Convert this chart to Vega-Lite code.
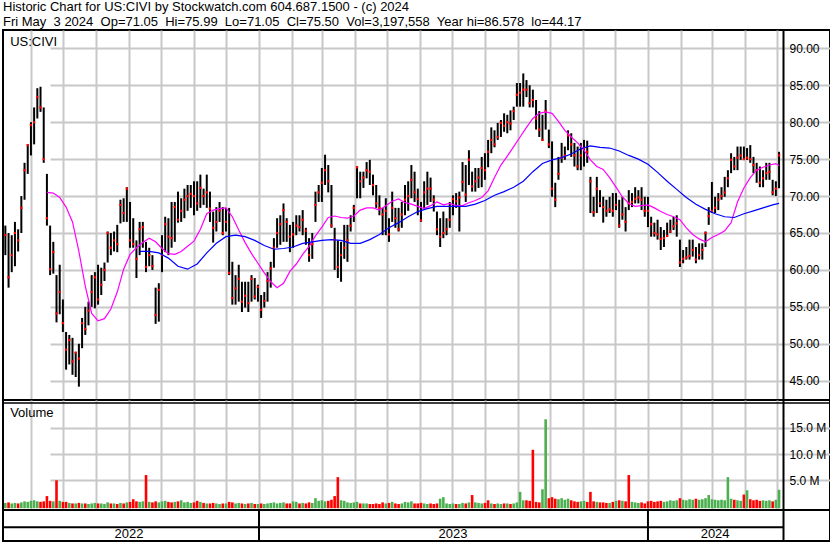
{
  "$schema": "https://vega.github.io/schema/vega-lite/v6.json",
  "padding": {"left": 1, "top": 0, "right": 0, "bottom": 0},
  "background": "white",
  "config": {
    "view": {"stroke": "black", "strokeWidth": 2},
    "font": "Liberation Sans",
    "axis": {"labelFont": "Liberation Sans", "labelColor": "black", "labelFontSize": 12}
  },
  "datasets": {
    "hdr": [
      {"line": "1", "t": "Historic Chart for US:CIVI by Stockwatch.com 604.687.1500 - (c) 2024"},
      {"line": "2", "t": "Fri May\u00a0 3 2024\u00a0 Op=71.05\u00a0 Hi=75.99\u00a0 Lo=71.05\u00a0 Cl=75.50\u00a0 Vol=3,197,558\u00a0 Year hi=86.578\u00a0 lo=44.17"}
    ],
    "px": [
      {"d":"2022-05-08","h":66,"l":62,"c":64.7,"v":0.7,"u":1},
      {"d":"2022-05-11","h":65,"l":57.6,"c":59,"v":0.8,"u":0},
      {"d":"2022-05-14","h":64.7,"l":59.7,"c":62,"v":0.6,"u":1},
      {"d":"2022-05-17","h":66.5,"l":60.5,"c":65,"v":0.7,"u":1},
      {"d":"2022-05-20","h":65.5,"l":62.5,"c":64,"v":0.6,"u":0},
      {"d":"2022-05-23","h":70,"l":65,"c":68.4,"v":0.8,"u":1},
      {"d":"2022-05-26","h":74.5,"l":69.5,"c":73.5,"v":1.0,"u":1},
      {"d":"2022-05-29","h":77,"l":73,"c":76.9,"v":0.9,"u":1},
      {"d":"2022-06-01","h":80,"l":75.5,"c":79.6,"v":1.1,"u":1},
      {"d":"2022-06-04","h":82,"l":77,"c":80,"v":1.2,"u":1},
      {"d":"2022-06-07","h":84.6,"l":80.5,"c":83.4,"v":1.0,"u":1},
      {"d":"2022-06-10","h":84.8,"l":81.4,"c":82,"v":0.9,"u":0},
      {"d":"2022-06-13","h":82,"l":74.5,"c":75,"v":1.0,"u":0},
      {"d":"2022-06-16","h":73,"l":66,"c":67,"v":2.0,"u":0},
      {"d":"2022-06-19","h":66,"l":59.3,"c":60.1,"v":1.1,"u":0},
      {"d":"2022-06-22","h":63.8,"l":59.5,"c":62.4,"v":1.0,"u":1},
      {"d":"2022-06-25","h":59.3,"l":52.9,"c":54.1,"v":5.0,"u":0},
      {"d":"2022-06-28","h":60.7,"l":54,"c":57,"v":1.1,"u":1},
      {"d":"2022-07-01","h":56,"l":51.6,"c":52.8,"v":0.9,"u":0},
      {"d":"2022-07-04","h":51.6,"l":46.5,"c":49.2,"v":0.9,"u":0},
      {"d":"2022-07-07","h":51.2,"l":47.2,"c":50.5,"v":0.7,"u":1},
      {"d":"2022-07-10","h":50.8,"l":45.8,"c":47.6,"v":0.6,"u":0},
      {"d":"2022-07-13","h":48.9,"l":45.5,"c":48.8,"v":0.6,"u":1},
      {"d":"2022-07-16","h":50,"l":44.2,"c":48,"v":0.7,"u":0},
      {"d":"2022-07-19","h":53.5,"l":49.4,"c":52.8,"v":0.6,"u":1},
      {"d":"2022-07-22","h":55,"l":51.2,"c":52,"v":0.6,"u":0},
      {"d":"2022-07-25","h":55.7,"l":52.5,"c":54.5,"v":0.5,"u":1},
      {"d":"2022-07-28","h":59.3,"l":55,"c":57,"v":0.6,"u":1},
      {"d":"2022-07-31","h":59.7,"l":54.8,"c":59,"v":0.7,"u":1},
      {"d":"2022-08-03","h":60.7,"l":55.3,"c":56,"v":0.6,"u":0},
      {"d":"2022-08-06","h":60.3,"l":56.6,"c":58,"v":0.6,"u":1},
      {"d":"2022-08-09","h":61,"l":58.5,"c":60,"v":0.5,"u":1},
      {"d":"2022-08-12","h":65.2,"l":61,"c":65,"v":0.8,"u":1},
      {"d":"2022-08-15","h":65,"l":62,"c":63,"v":0.6,"u":0},
      {"d":"2022-08-18","h":65.2,"l":62.5,"c":64,"v":0.6,"u":1},
      {"d":"2022-08-21","h":66.1,"l":62.4,"c":63.5,"v":0.5,"u":0},
      {"d":"2022-08-24","h":69.5,"l":66.3,"c":68.8,"v":0.7,"u":1},
      {"d":"2022-08-27","h":69.7,"l":66.5,"c":67.7,"v":0.6,"u":0},
      {"d":"2022-08-30","h":71.2,"l":66.5,"c":71,"v":0.8,"u":1},
      {"d":"2022-09-02","h":69.2,"l":63,"c":64,"v":0.9,"u":0},
      {"d":"2022-09-05","h":67,"l":63,"c":63.5,"v":1.4,"u":0},
      {"d":"2022-09-08","h":64,"l":58.9,"c":61.5,"v":1.0,"u":0},
      {"d":"2022-09-11","h":66.5,"l":62,"c":65.5,"v":0.9,"u":1},
      {"d":"2022-09-14","h":66.5,"l":63,"c":65.8,"v":1.0,"u":1},
      {"d":"2022-09-17","h":63.8,"l":59.7,"c":60.4,"v":6.0,"u":0},
      {"d":"2022-09-20","h":63,"l":60.5,"c":62,"v":0.9,"u":1},
      {"d":"2022-09-23","h":62,"l":60,"c":60.5,"v":0.8,"u":0},
      {"d":"2022-09-26","h":57.6,"l":52.7,"c":53.9,"v":1.0,"u":0},
      {"d":"2022-09-29","h":58.2,"l":53,"c":57.3,"v":0.8,"u":1},
      {"d":"2022-10-02","h":64.7,"l":59.7,"c":62,"v":1.0,"u":1},
      {"d":"2022-10-05","h":67.2,"l":62.4,"c":66.2,"v":1.1,"u":1},
      {"d":"2022-10-08","h":67,"l":62,"c":64.5,"v":0.9,"u":0},
      {"d":"2022-10-11","h":69.2,"l":63,"c":64.3,"v":0.8,"u":0},
      {"d":"2022-10-14","h":69.2,"l":63.8,"c":68.5,"v":0.9,"u":1},
      {"d":"2022-10-17","h":70.6,"l":66.4,"c":66.8,"v":1.0,"u":0},
      {"d":"2022-10-20","h":69.7,"l":66.5,"c":68,"v":1.2,"u":1},
      {"d":"2022-10-23","h":71,"l":67,"c":69.5,"v":0.8,"u":1},
      {"d":"2022-10-26","h":71.5,"l":68,"c":70,"v":0.9,"u":1},
      {"d":"2022-10-29","h":71.5,"l":68.4,"c":70.3,"v":0.7,"u":1},
      {"d":"2022-11-01","h":72,"l":67.4,"c":70,"v":0.8,"u":0},
      {"d":"2022-11-04","h":72,"l":68,"c":69,"v":1.1,"u":0},
      {"d":"2022-11-07","h":72.9,"l":68.4,"c":71.1,"v":0.9,"u":1},
      {"d":"2022-11-10","h":71,"l":68.8,"c":70,"v":0.7,"u":0},
      {"d":"2022-11-13","h":72.9,"l":68.4,"c":70.5,"v":0.6,"u":1},
      {"d":"2022-11-16","h":70.6,"l":66.5,"c":68.3,"v":0.6,"u":0},
      {"d":"2022-11-19","h":67.9,"l":63.7,"c":65.7,"v":0.7,"u":0},
      {"d":"2022-11-22","h":68.5,"l":65.2,"c":66.5,"v":0.6,"u":1},
      {"d":"2022-11-25","h":69.2,"l":66.5,"c":68,"v":0.5,"u":1},
      {"d":"2022-11-28","h":68.5,"l":64.7,"c":65,"v":0.6,"u":0},
      {"d":"2022-12-01","h":68.4,"l":65.2,"c":66.5,"v":0.6,"u":1},
      {"d":"2022-12-04","h":68.4,"l":59.3,"c":59.6,"v":0.9,"u":0},
      {"d":"2022-12-07","h":61.1,"l":55.3,"c":56.2,"v":0.8,"u":0},
      {"d":"2022-12-10","h":59.3,"l":55.3,"c":57.5,"v":0.6,"u":1},
      {"d":"2022-12-13","h":60.7,"l":55.7,"c":58.8,"v":0.7,"u":1},
      {"d":"2022-12-16","h":58.4,"l":54.3,"c":55.7,"v":0.6,"u":0},
      {"d":"2022-12-19","h":58.4,"l":54.9,"c":56.5,"v":0.5,"u":1},
      {"d":"2022-12-22","h":58.4,"l":54.3,"c":55.5,"v":0.6,"u":0},
      {"d":"2022-12-25","h":59.3,"l":55.7,"c":58.8,"v":0.7,"u":1},
      {"d":"2022-12-28","h":58.9,"l":56,"c":56.4,"v":0.5,"u":0},
      {"d":"2022-12-31","h":58,"l":55.7,"c":57.7,"v":0.5,"u":1},
      {"d":"2023-01-03","h":56.6,"l":53.5,"c":54.6,"v":0.6,"u":0},
      {"d":"2023-01-06","h":57,"l":54.9,"c":55.8,"v":0.5,"u":1},
      {"d":"2023-01-09","h":59.7,"l":55.7,"c":58.5,"v":0.6,"u":1},
      {"d":"2023-01-12","h":61.1,"l":57.6,"c":60.2,"v":0.7,"u":1},
      {"d":"2023-01-15","h":64.3,"l":60.3,"c":63,"v":0.8,"u":1},
      {"d":"2023-01-18","h":67,"l":63,"c":65,"v":0.6,"u":1},
      {"d":"2023-01-21","h":67.4,"l":63.4,"c":66.2,"v":0.7,"u":1},
      {"d":"2023-01-24","h":69,"l":63.8,"c":68.1,"v":0.8,"u":1},
      {"d":"2023-01-27","h":67,"l":63.8,"c":66.5,"v":0.6,"u":0},
      {"d":"2023-01-30","h":66.1,"l":62.4,"c":64.5,"v":0.6,"u":0},
      {"d":"2023-02-02","h":66.5,"l":63,"c":64.8,"v":1.0,"u":1},
      {"d":"2023-02-05","h":67.4,"l":64.7,"c":66,"v":0.9,"u":1},
      {"d":"2023-02-08","h":67.4,"l":65.2,"c":65.8,"v":0.6,"u":0},
      {"d":"2023-02-11","h":68.1,"l":64.7,"c":66.8,"v":0.7,"u":1},
      {"d":"2023-02-14","h":65.7,"l":63.4,"c":65.3,"v":0.6,"u":0},
      {"d":"2023-02-17","h":64.3,"l":61.1,"c":62,"v":0.8,"u":0},
      {"d":"2023-02-20","h":65,"l":61.5,"c":63.5,"v":0.7,"u":1},
      {"d":"2023-02-23","h":70.6,"l":66.5,"c":68.8,"v":1.6,"u":1},
      {"d":"2023-02-26","h":71.5,"l":69.2,"c":70.5,"v":1.1,"u":1},
      {"d":"2023-03-01","h":73.8,"l":69.2,"c":71.8,"v":1.2,"u":1},
      {"d":"2023-03-04","h":75.6,"l":71.5,"c":73.5,"v":1.0,"u":1},
      {"d":"2023-03-07","h":74.2,"l":70.5,"c":72,"v":1.1,"u":0},
      {"d":"2023-03-10","h":71.5,"l":65.7,"c":66,"v":1.3,"u":0},
      {"d":"2023-03-13","h":65.7,"l":60,"c":64.1,"v":2.0,"u":0},
      {"d":"2023-03-16","h":64,"l":58.9,"c":60.4,"v":5.6,"u":0},
      {"d":"2023-03-19","h":63.8,"l":58.4,"c":62,"v":1.2,"u":1},
      {"d":"2023-03-22","h":66.1,"l":61.5,"c":63,"v":1.1,"u":1},
      {"d":"2023-03-25","h":66.1,"l":61.1,"c":64,"v":0.8,"u":1},
      {"d":"2023-03-28","h":67.4,"l":65.2,"c":66,"v":0.7,"u":1},
      {"d":"2023-03-31","h":68.8,"l":66.5,"c":68.4,"v":0.8,"u":1},
      {"d":"2023-04-03","h":74,"l":69.7,"c":73.9,"v":0.9,"u":1},
      {"d":"2023-04-06","h":73.3,"l":69.7,"c":72,"v":0.6,"u":0},
      {"d":"2023-04-09","h":73.3,"l":71.1,"c":72.5,"v":0.6,"u":1},
      {"d":"2023-04-12","h":74.6,"l":72.4,"c":73.5,"v":0.6,"u":1},
      {"d":"2023-04-15","h":74.9,"l":71.5,"c":73.3,"v":0.5,"u":0},
      {"d":"2023-04-18","h":72.9,"l":70.1,"c":71.5,"v":0.5,"u":0},
      {"d":"2023-04-21","h":71.5,"l":68.4,"c":69,"v":0.6,"u":0},
      {"d":"2023-04-24","h":70.1,"l":67.4,"c":68.4,"v":0.5,"u":0},
      {"d":"2023-04-27","h":68.4,"l":64.7,"c":67.5,"v":0.8,"u":0},
      {"d":"2023-04-30","h":69.7,"l":64.7,"c":68,"v":0.6,"u":1},
      {"d":"2023-05-03","h":67,"l":63.8,"c":64.8,"v":0.7,"u":0},
      {"d":"2023-05-06","h":70.6,"l":66.5,"c":68.4,"v":0.9,"u":1},
      {"d":"2023-05-09","h":68.4,"l":65.7,"c":67,"v":0.6,"u":0},
      {"d":"2023-05-12","h":68.4,"l":65.2,"c":65.5,"v":0.5,"u":0},
      {"d":"2023-05-15","h":69.2,"l":65.7,"c":67.5,"v":0.6,"u":1},
      {"d":"2023-05-18","h":71.5,"l":67.4,"c":69.5,"v":0.9,"u":1},
      {"d":"2023-05-21","h":72,"l":68,"c":70,"v":0.8,"u":1},
      {"d":"2023-05-24","h":74.2,"l":69.7,"c":72.2,"v":1.0,"u":1},
      {"d":"2023-05-27","h":73.3,"l":69.2,"c":70.5,"v":0.6,"u":0},
      {"d":"2023-05-30","h":71,"l":67.4,"c":69.6,"v":0.6,"u":0},
      {"d":"2023-06-02","h":69.2,"l":66.5,"c":66.7,"v":0.7,"u":0},
      {"d":"2023-06-05","h":72,"l":68.4,"c":70.5,"v":0.6,"u":1},
      {"d":"2023-06-08","h":73.3,"l":68.8,"c":71,"v":0.5,"u":1},
      {"d":"2023-06-11","h":72.5,"l":69.2,"c":71,"v":0.6,"u":0},
      {"d":"2023-06-14","h":70.1,"l":67.9,"c":69.5,"v":0.5,"u":0},
      {"d":"2023-06-17","h":67.9,"l":64.7,"c":65.5,"v":0.6,"u":0},
      {"d":"2023-06-20","h":67,"l":63.1,"c":64.5,"v":1.5,"u":1},
      {"d":"2023-06-23","h":67.9,"l":64.3,"c":65,"v":1.8,"u":1},
      {"d":"2023-06-26","h":67,"l":64.7,"c":65.5,"v":0.6,"u":1},
      {"d":"2023-06-29","h":69.2,"l":65.7,"c":66.8,"v":0.5,"u":1},
      {"d":"2023-07-02","h":70.1,"l":67.4,"c":69.6,"v":0.6,"u":1},
      {"d":"2023-07-05","h":70.4,"l":68.4,"c":69.3,"v":0.5,"u":0},
      {"d":"2023-07-08","h":70.6,"l":65.2,"c":69.8,"v":0.5,"u":1},
      {"d":"2023-07-11","h":74.6,"l":70.6,"c":71.9,"v":0.7,"u":1},
      {"d":"2023-07-14","h":74.2,"l":69.2,"c":70.2,"v":0.6,"u":0},
      {"d":"2023-07-17","h":76.2,"l":71.5,"c":74.9,"v":0.8,"u":1},
      {"d":"2023-07-20","h":73.3,"l":70.6,"c":71.3,"v":2.2,"u":0},
      {"d":"2023-07-23","h":73.8,"l":70.6,"c":72,"v":0.8,"u":1},
      {"d":"2023-07-26","h":73.8,"l":71.1,"c":72.5,"v":0.7,"u":1},
      {"d":"2023-07-29","h":75.3,"l":71.2,"c":73.8,"v":0.6,"u":1},
      {"d":"2023-08-01","h":75.8,"l":72.2,"c":73.5,"v":0.7,"u":0},
      {"d":"2023-08-04","h":77.6,"l":73.9,"c":76,"v":1.2,"u":0},
      {"d":"2023-08-07","h":79.3,"l":75.8,"c":77.6,"v":0.6,"u":1},
      {"d":"2023-08-10","h":78.9,"l":76.6,"c":77,"v":0.5,"u":0},
      {"d":"2023-08-13","h":79.9,"l":77.6,"c":78,"v":0.6,"u":1},
      {"d":"2023-08-16","h":80.3,"l":78,"c":79.9,"v":0.5,"u":1},
      {"d":"2023-08-19","h":81.2,"l":78.7,"c":79.5,"v":0.6,"u":0},
      {"d":"2023-08-22","h":81,"l":78.5,"c":80,"v":0.6,"u":1},
      {"d":"2023-08-25","h":81.6,"l":78.9,"c":79.8,"v":0.5,"u":0},
      {"d":"2023-08-28","h":82.1,"l":80.3,"c":81.5,"v":0.6,"u":1},
      {"d":"2023-08-31","h":85.3,"l":82.1,"c":83.7,"v":0.8,"u":1},
      {"d":"2023-09-03","h":85.3,"l":82.1,"c":84,"v":2.8,"u":1},
      {"d":"2023-09-06","h":86.6,"l":82.1,"c":84.4,"v":1.2,"u":1},
      {"d":"2023-09-09","h":85.7,"l":83.4,"c":84.4,"v":1.2,"u":0},
      {"d":"2023-09-12","h":85,"l":82,"c":82.6,"v":1.1,"u":0},
      {"d":"2023-09-15","h":84.4,"l":82,"c":83,"v":10.8,"u":0},
      {"d":"2023-09-18","h":83,"l":79,"c":80.5,"v":0.9,"u":0},
      {"d":"2023-09-21","h":81.5,"l":78,"c":79,"v":0.8,"u":0},
      {"d":"2023-09-24","h":81,"l":77.5,"c":77.6,"v":3.3,"u":1},
      {"d":"2023-09-27","h":83,"l":79,"c":81.5,"v":16.6,"u":1},
      {"d":"2023-09-30","h":79,"l":76.5,"c":77,"v":1.6,"u":0},
      {"d":"2023-10-03","h":77.4,"l":69.9,"c":71,"v":1.8,"u":0},
      {"d":"2023-10-06","h":71.8,"l":68.5,"c":69.5,"v":1.5,"u":0},
      {"d":"2023-10-09","h":75.3,"l":72.2,"c":73,"v":1.4,"u":1},
      {"d":"2023-10-12","h":77.2,"l":74.5,"c":75.2,"v":1.6,"u":1},
      {"d":"2023-10-15","h":76.7,"l":74.9,"c":75.5,"v":1.3,"u":1},
      {"d":"2023-10-18","h":78.9,"l":76.2,"c":78.2,"v":1.5,"u":1},
      {"d":"2023-10-21","h":78.5,"l":75.3,"c":77,"v":1.2,"u":0},
      {"d":"2023-10-24","h":77.2,"l":74,"c":75.5,"v":1.0,"u":0},
      {"d":"2023-10-27","h":76.7,"l":73.5,"c":74,"v":0.9,"u":0},
      {"d":"2023-10-30","h":77.2,"l":73.5,"c":75.5,"v":1.0,"u":1},
      {"d":"2023-11-02","h":77.6,"l":74,"c":76.5,"v":1.1,"u":1},
      {"d":"2023-11-05","h":77.5,"l":74.5,"c":76,"v":0.9,"u":0},
      {"d":"2023-11-08","h":72.6,"l":67.7,"c":72,"v":2.8,"u":0},
      {"d":"2023-11-11","h":69.9,"l":67.2,"c":67.8,"v":1.0,"u":0},
      {"d":"2023-11-14","h":72.6,"l":67.7,"c":71,"v":0.9,"u":1},
      {"d":"2023-11-17","h":70.8,"l":68.5,"c":69,"v":0.8,"u":0},
      {"d":"2023-11-20","h":69.9,"l":66.4,"c":68.5,"v":0.8,"u":0},
      {"d":"2023-11-23","h":69.5,"l":67.2,"c":68,"v":0.7,"u":0},
      {"d":"2023-11-26","h":69.9,"l":67.7,"c":68.2,"v":0.7,"u":1},
      {"d":"2023-11-29","h":70.4,"l":67.2,"c":68,"v":0.9,"u":0},
      {"d":"2023-12-02","h":70.4,"l":68.1,"c":68.8,"v":1.1,"u":1},
      {"d":"2023-12-05","h":69.5,"l":65.7,"c":66,"v":1.2,"u":0},
      {"d":"2023-12-08","h":69.9,"l":66.8,"c":67.5,"v":1.1,"u":1},
      {"d":"2023-12-11","h":68.5,"l":65.2,"c":66.5,"v":1.0,"u":0},
      {"d":"2023-12-14","h":70.8,"l":68.1,"c":69,"v":6.0,"u":0},
      {"d":"2023-12-17","h":70.4,"l":68.5,"c":69.2,"v":0.9,"u":1},
      {"d":"2023-12-20","h":71.2,"l":69,"c":69.6,"v":0.8,"u":1},
      {"d":"2023-12-23","h":70.8,"l":69,"c":69.8,"v":0.7,"u":1},
      {"d":"2023-12-26","h":71.2,"l":68.1,"c":69.5,"v":0.8,"u":0},
      {"d":"2023-12-29","h":69.9,"l":67.2,"c":68,"v":0.6,"u":0},
      {"d":"2024-01-01","h":69.9,"l":65.8,"c":68,"v":1.0,"u":0},
      {"d":"2024-01-04","h":67.2,"l":64.5,"c":66.2,"v":1.1,"u":0},
      {"d":"2024-01-07","h":66.4,"l":64.5,"c":65,"v":0.9,"u":0},
      {"d":"2024-01-10","h":66.8,"l":64.1,"c":64.8,"v":1.0,"u":0},
      {"d":"2024-01-13","h":65.8,"l":62.7,"c":64.2,"v":1.1,"u":0},
      {"d":"2024-01-16","h":65.4,"l":63.1,"c":64.3,"v":0.9,"u":1},
      {"d":"2024-01-19","h":66.4,"l":64.5,"c":64.6,"v":1.0,"u":1},
      {"d":"2024-01-22","h":66.8,"l":65,"c":65.2,"v":1.2,"u":1},
      {"d":"2024-01-25","h":67.2,"l":65.4,"c":65.9,"v":1.1,"u":1},
      {"d":"2024-01-28","h":67.4,"l":64.5,"c":66.3,"v":1.2,"u":1},
      {"d":"2024-01-31","h":64.1,"l":60.4,"c":61,"v":1.6,"u":0},
      {"d":"2024-02-03","h":62.7,"l":60.9,"c":61.5,"v":1.3,"u":1},
      {"d":"2024-02-06","h":63.1,"l":61.4,"c":61.7,"v":1.2,"u":1},
      {"d":"2024-02-09","h":64.1,"l":61.4,"c":61.9,"v":1.4,"u":1},
      {"d":"2024-02-12","h":64.1,"l":61.8,"c":62.7,"v":1.3,"u":1},
      {"d":"2024-02-15","h":63.1,"l":60.9,"c":61.4,"v":1.5,"u":0},
      {"d":"2024-02-18","h":63.6,"l":61.4,"c":62,"v":1.3,"u":1},
      {"d":"2024-02-21","h":63.6,"l":61.4,"c":62.7,"v":1.4,"u":1},
      {"d":"2024-02-24","h":65.2,"l":63.1,"c":65,"v":1.6,"u":1},
      {"d":"2024-02-27","h":68.5,"l":66.1,"c":67.3,"v":2.2,"u":1},
      {"d":"2024-03-01","h":71.9,"l":67.7,"c":68,"v":1.4,"u":1},
      {"d":"2024-03-04","h":69.9,"l":67.7,"c":68.4,"v":1.3,"u":1},
      {"d":"2024-03-07","h":70.4,"l":68.1,"c":69.5,"v":1.2,"u":1},
      {"d":"2024-03-10","h":71.2,"l":69.5,"c":70,"v":1.3,"u":1},
      {"d":"2024-03-13","h":72.6,"l":69.9,"c":70.5,"v":1.2,"u":1},
      {"d":"2024-03-16","h":73.5,"l":71.2,"c":72.4,"v":5.6,"u":1},
      {"d":"2024-03-19","h":75.8,"l":73.1,"c":74.9,"v":1.5,"u":1},
      {"d":"2024-03-22","h":75.3,"l":73.5,"c":74,"v":1.3,"u":0},
      {"d":"2024-03-25","h":76.7,"l":73.5,"c":75.2,"v":1.2,"u":1},
      {"d":"2024-03-28","h":76.7,"l":74.9,"c":75.5,"v":1.1,"u":1},
      {"d":"2024-03-31","h":76.7,"l":74.9,"c":75,"v":2.3,"u":0},
      {"d":"2024-04-03","h":76.5,"l":74.9,"c":75.2,"v":3.1,"u":1},
      {"d":"2024-04-06","h":76.9,"l":74.5,"c":75,"v":1.4,"u":0},
      {"d":"2024-04-09","h":75.3,"l":73.1,"c":74.2,"v":1.2,"u":0},
      {"d":"2024-04-12","h":74.5,"l":71.8,"c":73.5,"v":1.3,"u":0},
      {"d":"2024-04-15","h":74,"l":71.2,"c":71.8,"v":1.1,"u":0},
      {"d":"2024-04-18","h":73.5,"l":71.2,"c":72.4,"v":1.2,"u":1},
      {"d":"2024-04-21","h":74.5,"l":72.2,"c":73.1,"v":1.1,"u":1},
      {"d":"2024-04-24","h":74.5,"l":72.2,"c":73.3,"v":1.2,"u":1},
      {"d":"2024-04-27","h":72.2,"l":70.1,"c":70.5,"v":1.0,"u":0},
      {"d":"2024-04-30","h":72,"l":70,"c":71,"v":1.3,"u":1},
      {"d":"2024-05-03","h":75.99,"l":71.05,"c":75.5,"v":3.2,"u":1}
    ],
    "mag": [
      {"d":"2022-06-16","m":70.5},{"d":"2022-06-22","m":70.4},{"d":"2022-06-28","m":69.8},{"d":"2022-07-04","m":68.5},
      {"d":"2022-07-10","m":66.5},{"d":"2022-07-16","m":62.5},{"d":"2022-07-22","m":57.8},{"d":"2022-07-28","m":54.1},
      {"d":"2022-08-03","m":53.1},{"d":"2022-08-09","m":53.4},{"d":"2022-08-15","m":54.7},{"d":"2022-08-21","m":57.0},
      {"d":"2022-08-27","m":60.1},{"d":"2022-09-02","m":62.1},{"d":"2022-09-08","m":63.0},{"d":"2022-09-14","m":63.7},
      {"d":"2022-09-20","m":64.3},{"d":"2022-09-26","m":63.8},{"d":"2022-10-02","m":62.9},{"d":"2022-10-08","m":62.2},
      {"d":"2022-10-14","m":62.1},{"d":"2022-10-20","m":62.5},{"d":"2022-10-26","m":63.2},{"d":"2022-11-01","m":63.9},
      {"d":"2022-11-07","m":65.5},{"d":"2022-11-13","m":67.6},{"d":"2022-11-19","m":68.1},{"d":"2022-11-25","m":68.3},
      {"d":"2022-12-01","m":68.4},{"d":"2022-12-07","m":67.2},{"d":"2022-12-13","m":65.4},{"d":"2022-12-19","m":63.7},
      {"d":"2022-12-25","m":62.2},{"d":"2022-12-31","m":60.9},{"d":"2023-01-06","m":59.6},{"d":"2023-01-12","m":58.4},
      {"d":"2023-01-18","m":57.6},{"d":"2023-01-24","m":58.2},{"d":"2023-01-30","m":59.8},{"d":"2023-02-05","m":60.8},
      {"d":"2023-02-11","m":62.1},{"d":"2023-02-17","m":63.2},{"d":"2023-02-23","m":64.6},{"d":"2023-03-01","m":65.8},
      {"d":"2023-03-07","m":67.1},{"d":"2023-03-13","m":67.3},{"d":"2023-03-19","m":67.1},{"d":"2023-03-25","m":67.0},
      {"d":"2023-03-31","m":67.3},{"d":"2023-04-06","m":68.1},{"d":"2023-04-12","m":68.4},{"d":"2023-04-18","m":68.4},
      {"d":"2023-04-24","m":68.1},{"d":"2023-04-30","m":68.7},{"d":"2023-05-06","m":69.3},{"d":"2023-05-12","m":69.6},
      {"d":"2023-05-18","m":69.1},{"d":"2023-05-24","m":68.9},{"d":"2023-05-30","m":68.6},{"d":"2023-06-05","m":68.3},
      {"d":"2023-06-11","m":68.7},{"d":"2023-06-17","m":69.2},{"d":"2023-06-23","m":68.8},{"d":"2023-06-29","m":69.0},
      {"d":"2023-07-05","m":68.7},{"d":"2023-07-11","m":68.7},{"d":"2023-07-17","m":69.1},{"d":"2023-07-23","m":69.4},
      {"d":"2023-07-29","m":69.8},{"d":"2023-08-04","m":70.7},{"d":"2023-08-10","m":72.5},{"d":"2023-08-16","m":74.2},
      {"d":"2023-08-22","m":75.4},{"d":"2023-08-28","m":76.7},{"d":"2023-09-03","m":78.0},{"d":"2023-09-09","m":79.3},
      {"d":"2023-09-15","m":80.5},{"d":"2023-09-21","m":81.2},{"d":"2023-09-27","m":81.4},{"d":"2023-10-03","m":81.2},
      {"d":"2023-10-09","m":80.1},{"d":"2023-10-15","m":78.9},{"d":"2023-10-21","m":78.0},{"d":"2023-10-27","m":77.2},
      {"d":"2023-11-02","m":76.2},{"d":"2023-11-08","m":74.9},{"d":"2023-11-14","m":74.0},{"d":"2023-11-20","m":73.6},
      {"d":"2023-11-26","m":72.5},{"d":"2023-12-02","m":71.2},{"d":"2023-12-08","m":69.9},{"d":"2023-12-14","m":69.0},
      {"d":"2023-12-20","m":68.6},{"d":"2023-12-26","m":68.7},{"d":"2024-01-01","m":68.8},{"d":"2024-01-07","m":68.4},
      {"d":"2024-01-13","m":67.9},{"d":"2024-01-19","m":67.5},{"d":"2024-01-25","m":67.2},{"d":"2024-01-31","m":66.8},
      {"d":"2024-02-06","m":65.7},{"d":"2024-02-12","m":64.8},{"d":"2024-02-18","m":64.2},{"d":"2024-02-24","m":63.8},
      {"d":"2024-03-01","m":64.4},{"d":"2024-03-07","m":64.8},{"d":"2024-03-13","m":65.3},{"d":"2024-03-19","m":66.4},
      {"d":"2024-03-25","m":69.2},{"d":"2024-03-31","m":71.1},{"d":"2024-04-06","m":72.5},{"d":"2024-04-12","m":73.5},
      {"d":"2024-04-18","m":73.9},{"d":"2024-04-24","m":74.2},{"d":"2024-04-30","m":74.4},{"d":"2024-05-03","m":74.1}
    ],
    "blu": [
      {"d":"2022-09-11","b":62.5},{"d":"2022-09-20","b":62.5},{"d":"2022-09-29","b":62.3},{"d":"2022-10-08","b":61.6},
      {"d":"2022-10-17","b":60.5},{"d":"2022-10-26","b":60.1},{"d":"2022-11-04","b":60.8},{"d":"2022-11-13","b":62.3},
      {"d":"2022-11-22","b":63.6},{"d":"2022-12-01","b":64.5},{"d":"2022-12-10","b":64.7},{"d":"2022-12-19","b":64.5},
      {"d":"2022-12-28","b":64.0},{"d":"2023-01-06","b":63.3},{"d":"2023-01-15","b":62.8},{"d":"2023-01-24","b":62.9},
      {"d":"2023-02-02","b":63.1},{"d":"2023-02-11","b":63.6},{"d":"2023-02-20","b":63.8},{"d":"2023-03-01","b":64.0},
      {"d":"2023-03-10","b":64.1},{"d":"2023-03-19","b":64.0},{"d":"2023-03-28","b":63.6},{"d":"2023-04-06","b":63.6},
      {"d":"2023-04-15","b":64.1},{"d":"2023-04-24","b":64.8},{"d":"2023-05-03","b":65.7},{"d":"2023-05-12","b":66.4},
      {"d":"2023-05-21","b":67.2},{"d":"2023-05-30","b":67.9},{"d":"2023-06-08","b":68.3},{"d":"2023-06-17","b":68.6},
      {"d":"2023-06-26","b":68.6},{"d":"2023-07-05","b":68.6},{"d":"2023-07-14","b":68.6},{"d":"2023-07-23","b":68.9},
      {"d":"2023-08-01","b":69.4},{"d":"2023-08-10","b":70.1},{"d":"2023-08-19","b":70.6},{"d":"2023-08-28","b":71.2},
      {"d":"2023-09-06","b":72.0},{"d":"2023-09-15","b":73.3},{"d":"2023-09-24","b":74.4},{"d":"2023-10-03","b":74.9},
      {"d":"2023-10-12","b":75.2},{"d":"2023-10-21","b":75.7},{"d":"2023-10-30","b":76.4},{"d":"2023-11-08","b":76.8},
      {"d":"2023-11-17","b":76.6},{"d":"2023-11-26","b":76.5},{"d":"2023-12-05","b":76.1},{"d":"2023-12-14","b":75.5},
      {"d":"2023-12-23","b":75.0},{"d":"2024-01-01","b":74.3},{"d":"2024-01-10","b":73.2},{"d":"2024-01-19","b":72.0},
      {"d":"2024-01-28","b":70.9},{"d":"2024-02-06","b":69.8},{"d":"2024-02-15","b":68.9},{"d":"2024-02-24","b":68.2},
      {"d":"2024-03-04","b":67.6},{"d":"2024-03-13","b":67.2},{"d":"2024-03-22","b":67.1},{"d":"2024-03-31","b":67.6},
      {"d":"2024-04-09","b":68.0},{"d":"2024-04-18","b":68.4},{"d":"2024-04-27","b":68.8},{"d":"2024-05-03","b":69.0}
    ],
    "yrs": [
      {"label":"2022","mid":"2022-09-01"},
      {"label":"2023","mid":"2023-07-02"},
      {"label":"2024","mid":"2024-03-04"}
    ],
    "bounds": [
      {"b":"2023-01-01"},
      {"b":"2024-01-01"}
    ]
  },
  "spacing": 0,
  "bounds": "flush",
  "vconcat": [
    {
      "width": 827,
      "height": 30,
      "view": {"stroke": null},
      "data": {"name": "hdr"},
      "mark": {"type": "text", "align": "left", "baseline": "middle", "fontSize": 13, "font": "Liberation Sans", "color": "black", "dy": -1},
      "encoding": {
        "x": {"datum": {"year": 2022, "month": 5, "date": 5, "hours": 19, "utc": true}, "type": "temporal",
          "scale": {"type": "utc", "domain": [{"year": 2022, "month": 5, "date": 5, "hours": 19, "utc": true}, {"year": 2024, "month": 5, "date": 6, "hours": 17, "utc": true}], "range": [0, 780]},
          "axis": null},
        "y": {"field": "line", "type": "ordinal", "axis": null, "scale": {"paddingInner": 0, "paddingOuter": 0}},
        "text": {"field": "t"}
      }
    },
    {
      "width": 827,
      "height": 370,
      "layer": [
        {
          "data": {"name": "px"},
          "mark": {"type": "rule", "color": "black", "strokeWidth": 2},
          "encoding": {
            "x": {"field": "d", "type": "temporal",
              "scale": {"type": "utc", "domain": [{"year": 2022, "month": 5, "date": 5, "hours": 19, "utc": true}, {"year": 2024, "month": 5, "date": 6, "hours": 17, "utc": true}], "range": [0, 780]},
              "axis": {"orient": "bottom", "grid": true, "gridColor": "#c8c8c8", "gridWidth": 2, "labels": false, "ticks": false, "domain": false, "title": null, "tickCount": {"interval": "month", "step": 1}}},
            "y": {"field": "l", "type": "quantitative",
              "scale": {"domain": [42.39, 92.48], "nice": false, "zero": false},
              "axis": {"orient": "right", "offset": -47, "values": [45, 47.5, 50, 52.5, 55, 57.5, 60, 62.5, 65, 67.5, 70, 72.5, 75, 77.5, 80, 82.5, 85, 87.5, 90], "format": ".2f", "grid": true, "gridColor": "#c8c8c8", "gridWidth": 2, "ticks": false, "domain": true, "domainColor": "black", "domainWidth": 2, "labelPadding": 6, "labelOverlap": false, "labelAlign": "left", "labelBaseline": "middle", "title": null}},
            "y2": {"field": "h"}
          }
        },
        {
          "data": {"name": "px"},
          "mark": {"type": "square", "color": "#ff0000", "size": 5, "opacity": 1},
          "encoding": {
            "x": {"field": "d", "type": "temporal"},
            "y": {"field": "c", "type": "quantitative"}
          }
        },
        {
          "data": {"name": "mag"},
          "mark": {"type": "line", "color": "#ff00ff", "strokeWidth": 1.2},
          "encoding": {
            "x": {"field": "d", "type": "temporal"},
            "y": {"field": "m", "type": "quantitative"}
          }
        },
        {
          "data": {"name": "blu"},
          "mark": {"type": "line", "color": "#0000ff", "strokeWidth": 1.2},
          "encoding": {
            "x": {"field": "d", "type": "temporal"},
            "y": {"field": "b", "type": "quantitative"}
          }
        },
        {
          "data": {"values": [{"t": "US:CIVI"}]},
          "mark": {"type": "text", "align": "left", "baseline": "middle", "fontSize": 13, "font": "Liberation Sans", "color": "black"},
          "encoding": {
            "x": {"datum": {"year": 2022, "month": 5, "date": 12, "hours": 12, "utc": true}, "type": "temporal"},
            "y": {"datum": 90.85, "type": "quantitative"},
            "text": {"field": "t"}
          }
        }
      ]
    },
    {
      "width": 827,
      "height": 110,
      "layer": [
        {
          "data": {"name": "px"},
          "mark": {"type": "rule", "strokeWidth": 2.6},
          "encoding": {
            "x": {"field": "d", "type": "temporal",
              "scale": {"type": "utc", "domain": [{"year": 2022, "month": 5, "date": 5, "hours": 19, "utc": true}, {"year": 2024, "month": 5, "date": 6, "hours": 17, "utc": true}], "range": [0, 780]},
              "axis": {"orient": "bottom", "grid": true, "gridColor": "#c8c8c8", "gridWidth": 2, "labels": false, "ticks": false, "domain": false, "title": null, "tickCount": {"interval": "month", "step": 1}}},
            "y": {"field": "v", "type": "quantitative",
              "scale": {"domain": [-0.646, 20.27], "nice": false, "zero": false},
              "axis": {"orient": "right", "offset": -47, "values": [5, 10, 15], "labelExpr": "format(datum.value, '.1f') + ' M'", "grid": true, "gridColor": "#c8c8c8", "gridWidth": 2, "ticks": false, "domain": true, "domainColor": "black", "domainWidth": 2, "labelPadding": 6, "labelAlign": "left", "labelBaseline": "middle", "labelOverlap": false, "title": null}},
            "y2": {"datum": -0.3},
            "color": {"field": "u", "type": "nominal", "scale": {"domain": [0, 1], "range": ["#ff0000", "#4caf50"]}, "legend": null}
          }
        },
        {
          "data": {"values": [{"t": 1}]},
          "mark": {"type": "rule", "color": "black", "strokeWidth": 1.5},
          "encoding": {
            "y": {"datum": 19.7, "type": "quantitative"}
          }
        },
        {
          "data": {"values": [{"t": "Volume"}]},
          "mark": {"type": "text", "align": "left", "baseline": "middle", "fontSize": 13, "font": "Liberation Sans", "color": "black"},
          "encoding": {
            "x": {"datum": {"year": 2022, "month": 5, "date": 12, "hours": 12, "utc": true}, "type": "temporal"},
            "y": {"datum": 17.8, "type": "quantitative"},
            "text": {"field": "t"}
          }
        }
      ]
    },
    {
      "width": 827,
      "height": 31,
      "layer": [
        {
          "data": {"values": [{"t": 1}]},
          "mark": {"type": "rule", "color": "black", "strokeWidth": 2},
          "encoding": {
            "x": {"datum": {"year": 2022, "month": 5, "date": 5, "hours": 19, "utc": true}, "type": "temporal",
              "scale": {"type": "utc", "domain": [{"year": 2022, "month": 5, "date": 5, "hours": 19, "utc": true}, {"year": 2024, "month": 5, "date": 6, "hours": 17, "utc": true}], "range": [0, 780]},
              "axis": null},
            "x2": {"datum": {"year": 2024, "month": 5, "date": 6, "hours": 17, "utc": true}},
            "y": {"datum": 0.88, "type": "quantitative", "scale": {"domain": [0, 2], "nice": false, "zero": false},
              "axis": {"orient": "right", "offset": -47, "labels": false, "ticks": false, "grid": false, "domain": true, "domainColor": "black", "domainWidth": 2, "title": null}}
          }
        },
        {
          "data": {"name": "bounds"},
          "mark": {"type": "rule", "color": "black", "strokeWidth": 2},
          "encoding": {
            "x": {"field": "b", "type": "temporal"}
          }
        },
        {
          "data": {"name": "yrs"},
          "mark": {"type": "text", "align": "center", "baseline": "middle", "fontSize": 13, "font": "Liberation Sans", "color": "black"},
          "encoding": {
            "x": {"field": "mid", "type": "temporal"},
            "y": {"datum": 0.45, "type": "quantitative"},
            "text": {"field": "label"}
          }
        }
      ]
    }
  ]
}
